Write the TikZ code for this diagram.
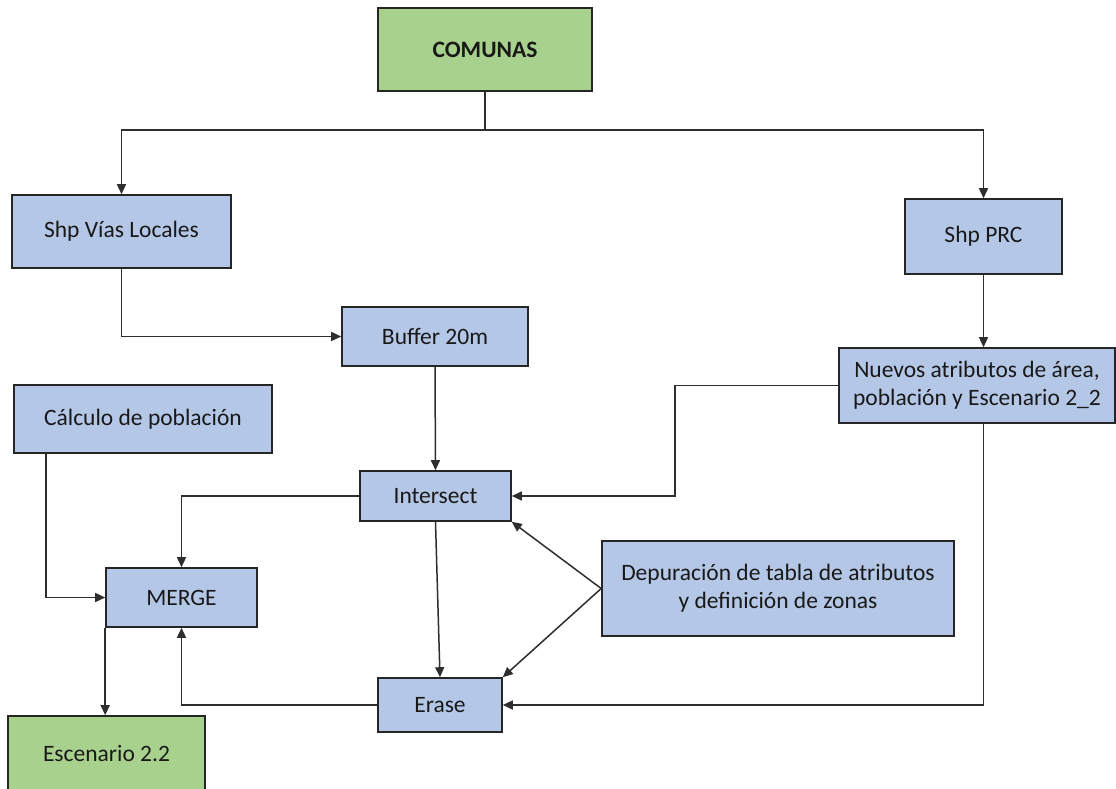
\documentclass[tikz,border=0pt]{standalone}
\usepackage{fontspec}
\setmainfont{Carlito}
\usetikzlibrary{arrows.meta,calc}
\definecolor{boxblue}{HTML}{B4C7E7}
\definecolor{boxgreen}{HTML}{A9D18E}
\definecolor{edge}{HTML}{262626}
\definecolor{linec}{HTML}{2E2E2E}
\tikzset{
  box/.style={draw=edge, line width=1.6pt, fill=boxblue, rectangle, inner sep=0pt, align=center,
    font=\fontsize{23.5}{28}\selectfont, text=black!90},
  gbox/.style={box, fill=boxgreen},
  arr/.style={draw=linec, line width=1.5pt, -{Triangle[length=10pt,width=9pt]}},
  plain/.style={draw=linec, line width=1.5pt}
}
\begin{document}
\begin{tikzpicture}[x=1pt,y=-1pt]
\clip (0,0) rectangle (1116,789);
\fill[white] (0,0) rectangle (1116,789);

\node[gbox, minimum width=214pt, minimum height=83pt, font=\fontsize{23.5}{28}\selectfont\bfseries] (com) at (485,49.5) {COMUNAS};
\node[box, minimum width=219pt, minimum height=73pt] (vias) at (121.5,231.5) {Shp Vías Locales};
\node[box, minimum width=157pt, minimum height=75pt] (prc) at (983.5,236.5) {Shp PRC};
\node[box, minimum width=186pt, minimum height=59pt] (buf) at (435,336.5) {Buffer 20m};
\node[box, minimum width=258pt, minimum height=68pt] (calc) at (143,419) {Cálculo de población};
\node[box, minimum width=276pt, minimum height=75pt] (nue) at (977,385.5) {Nuevos atributos de área,\\población y Escenario 2\_2};
\node[box, minimum width=151pt, minimum height=50pt] (int) at (435.5,496) {Intersect};
\node[box, minimum width=352pt, minimum height=95pt] (dep) at (778,588.5) {Depuración de tabla de atributos\\y definición de zonas};
\node[box, minimum width=151pt, minimum height=59pt] (mer) at (181.5,597.5) {MERGE};
\node[box, minimum width=124pt, minimum height=54pt] (era) at (440,705) {Erase};
\node[gbox, minimum width=197pt, minimum height=74pt] (esc) at (106.5,753) {Escenario 2.2};

\coordinate (split) at (485,130);
\coordinate (j6) at (675,386);
\coordinate (c8) at (46,0);

\draw[plain] (com.south) -- (split);
\draw[arr] (split) -| (vias.north);
\draw[arr] (split) -| (prc.north);
\draw[arr] (vias.south) |- (buf.west);
\draw[arr] (prc.south) -- (nue.north -| prc.south);
\draw[arr] (buf.south) -- (int.north);
\draw[arr] (nue.west) -- (nue.west -| j6) |- (int.east);
\draw[arr] (int.west) -| (mer.north);
\draw[arr] (calc.south -| c8) |- (mer.west);
\draw[arr] (int.south) -- (era.north);
\draw[arr] (dep.west) -- (int.south east);
\draw[arr] (dep.west) -- (era.north east);
\draw[arr] (nue.south -| prc.south) |- (era.east);
\draw[arr] (era.west) -| (mer.south);
\draw[arr] (mer.south west) -- (esc.north -| mer.south west);
\end{tikzpicture}
\end{document}
